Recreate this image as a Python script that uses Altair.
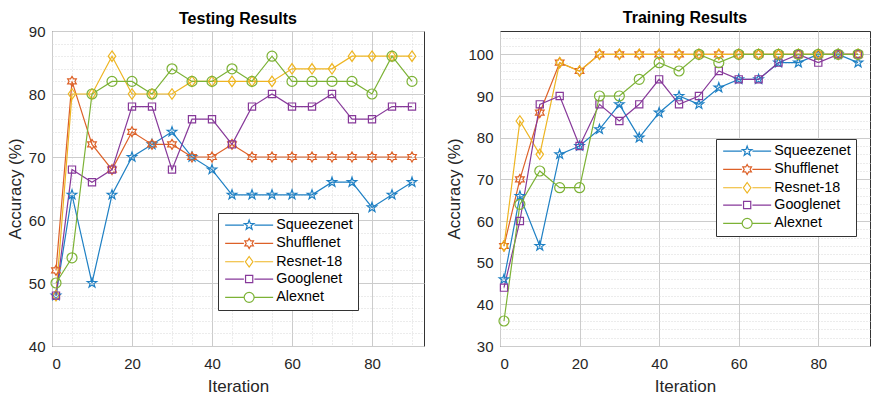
import math
import altair as alt
import pandas as pd

iterations = [1, 5, 10, 15, 20, 25, 30, 35, 40, 45, 50, 55, 60, 65, 70, 75, 80, 85, 90]
models = ["Squeezenet", "Shufflenet", "Resnet-18", "Googlenet", "Alexnet"]
colors = ["#1f80c4", "#dd6128", "#eeb522", "#87399a", "#7cb235"]

test_squeezenet = [48, 64, 50, 64, 70, 72, 74, 70, 68, 64, 64, 64, 64, 64, 66, 66, 62, 64, 66]
test_shufflenet = [52, 82, 72, 68, 74, 72, 72, 70, 70, 72, 70, 70, 70, 70, 70, 70, 70, 70, 70]
test_resnet18 = [48, 80, 80, 86, 80, 80, 80, 82, 82, 82, 82, 82, 84, 84, 84, 86, 86, 86, 86]
test_googlenet = [48, 68, 66, 68, 78, 78, 68, 76, 76, 72, 78, 80, 78, 78, 80, 76, 76, 78, 78]
test_alexnet = [50, 54, 80, 82, 82, 80, 84, 82, 82, 84, 82, 86, 82, 82, 82, 82, 80, 86, 82]

train_squeezenet = [46, 66, 54, 76, 78, 82, 88, 80, 86, 90, 88, 92, 94, 94, 98, 98, 100, 100, 98]
train_shufflenet = [54, 70, 86, 98, 96, 100, 100, 100, 100, 100, 100, 100, 100, 100, 100, 100, 100, 100, 100]
train_resnet18 = [54, 84, 76, 98, 96, 100, 100, 100, 100, 100, 100, 100, 100, 100, 100, 100, 100, 100, 100]
train_googlenet = [44, 60, 88, 90, 78, 88, 84, 88, 94, 88, 90, 96, 94, 94, 98, 100, 98, 100, 100]
train_alexnet = [36, 64, 72, 68, 68, 90, 90, 94, 98, 96, 100, 98, 100, 100, 100, 100, 100, 100, 100]

x_ticks = [0, 20, 40, 60, 80]
test_y_ticks = [40, 50, 60, 70, 80, 90]
train_y_ticks = [30, 40, 50, 60, 70, 80, 90, 100]

FONT = "Liberation Sans"


def star_path(n, r_in):
    pts = []
    for k in range(2 * n):
        ang = math.radians(-90 + 180 * k / n)
        r = 1.0 if k % 2 == 0 else r_in
        pts.append(f"{r * math.cos(ang):.3f},{r * math.sin(ang):.3f}")
    return "M" + "L".join(pts) + "Z"


shapes = [
    star_path(5, 0.40),
    star_path(6, 0.58),
    "M0,-1.05L0.75,0L0,1.05L-0.75,0Z",
    "M-0.72,-0.72L0.72,-0.72L0.72,0.72L-0.72,0.72Z",
    "M1,0A1,1,0,1,1,-1,0A1,1,0,1,1,1,0Z",
]
legend_line = "M-4.8,0L-1.05,0M1.05,0L4.8,0"
legend_shapes = [s + legend_line for s in shapes]


def long_df(series):
    rows = []
    for m, vals in zip(models, series):
        for it, v in zip(iterations, vals):
            rows.append({"Iteration": it, "Accuracy": v, "Model": m})
    return pd.DataFrame(rows)


def cond(test, major, minor):
    return {"condition": {"test": test, "value": major}, "value": minor}


def panel(series, title, ydom, yticks, x_minor_step, lx, ly, width, title_offset):
    df = long_df(series)
    y_minor = list(range(int(ydom[0]), int(ydom[1]) + 1, 2))
    x_minor = list(range(0, 93, x_minor_step))
    xt = f"indexof({x_ticks}, datum.value) >= 0"
    yt = f"indexof({yticks}, datum.value) >= 0"
    x = alt.X("Iteration:Q", scale=alt.Scale(domain=[0, 93], nice=False, zero=False),
              axis=alt.Axis(title="Iteration", values=x_minor, labelPadding=10, titlePadding=7,
                            labelExpr=f"{xt} ? datum.label : ''",
                            gridDash=cond(xt, [], [1, 2]),
                            gridColor=cond(xt, "#cccccc", "#d8d8d8")))
    y = alt.Y("Accuracy:Q", scale=alt.Scale(domain=ydom, nice=False, zero=False),
              axis=alt.Axis(title="Accuracy (%)", values=y_minor, labelPadding=7,
                            labelExpr=f"{yt} ? datum.label : ''",
                            gridDash=cond(yt, [], [1, 2]),
                            gridColor=cond(yt, "#cccccc", "#d8d8d8")))
    color_plain = alt.Color("Model:N", scale=alt.Scale(domain=models, range=colors), legend=None)
    base = alt.Chart(df)
    lines = base.mark_line(strokeWidth=1.2).encode(x=x, y=y, color=color_plain)
    pts = base.mark_point(filled=False, size=100, strokeWidth=1.2, opacity=1).encode(
        x=x, y=y, color=color_plain,
        shape=alt.Shape("Model:N", scale=alt.Scale(domain=models, range=shapes), legend=None),
    )
    legend = alt.Legend(
        orient="none", legendX=lx, legendY=ly, title=None,
        fillColor="white", strokeColor="#333333", padding=5, rowPadding=2.3,
        labelFont=FONT, labelFontSize=14.3, labelColor="#000000", labelOffset=20,
        symbolSize=100, symbolStrokeWidth=1.2, symbolOffset=19,
    )
    leg = base.transform_filter("datum.Iteration < 0").mark_point(
        filled=False, size=100, strokeWidth=1.2, opacity=1
    ).encode(
        color=alt.Color("Model:N", scale=alt.Scale(domain=models, range=colors), legend=legend),
        shape=alt.Shape("Model:N", scale=alt.Scale(domain=models, range=legend_shapes), legend=legend),
    )
    return alt.layer(lines, pts, leg).resolve_scale(
        color="independent", shape="independent"
    ).properties(
        width=width, height=315,
        title=alt.TitleParams(title, fontSize=16, fontWeight="bold", font=FONT, color="#000000",
                              offset=title_offset),
    )


left = panel([test_squeezenet, test_shufflenet, test_resnet18, test_googlenet, test_alexnet],
             "Testing Results", [40, 90], test_y_ticks, 5, 166, 182, 372, -3)
right = panel([train_squeezenet, train_shufflenet, train_resnet18, train_googlenet, train_alexnet],
              "Training Results", [30, 105.6], train_y_ticks, 20, 216, 108, 370, 5)

chart = alt.hconcat(left, right, spacing=20).resolve_scale(
    color="independent", shape="independent", x="independent", y="independent"
).properties(
    padding={"left": 5, "right": 2, "top": 9, "bottom": 2}, background="white"
).configure_view(stroke="#333333", strokeWidth=1).configure_axis(
    labelFont=FONT, labelFontSize=15, labelColor="#262626", titleFont=FONT, titleFontSize=17,
    titleFontWeight="normal", titleColor="#262626", domain=False, ticks=False,
    grid=True, gridWidth=1,
)

chart.save("out.html", embed_options={"renderer": "svg", "actions": False})
